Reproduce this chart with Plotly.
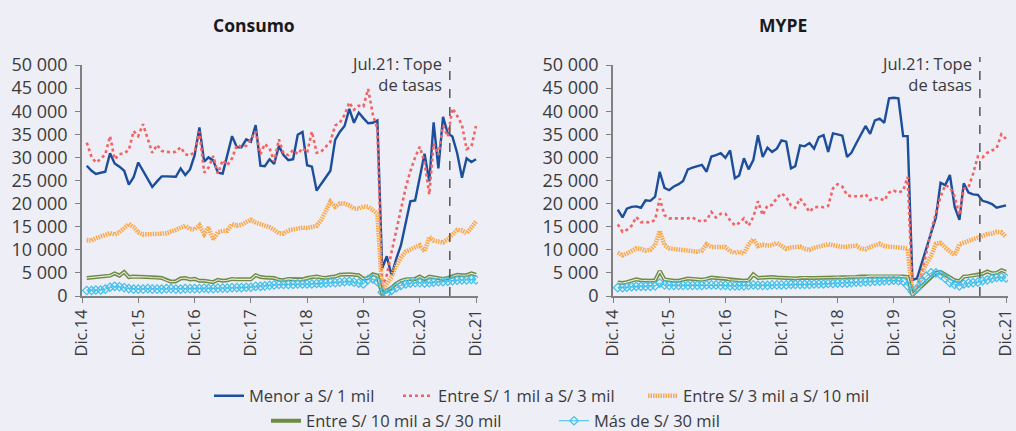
import pandas as pd
import plotly.graph_objects as go

# ---------------- data (values in thousands of soles) ----------------
MONTHS = pd.date_range("2015-01-01", "2021-12-01", freq="MS")
X_TICK_VALS = pd.date_range("2014-12-01", "2021-12-01", freq="12MS")
X_TICK_LABELS = ["Dic.14", "Dic.15", "Dic.16", "Dic.17", "Dic.18", "Dic.19", "Dic.20", "Dic.21"]
Y_TICK_VALS = [0, 5, 10, 15, 20, 25, 30, 35, 40, 45, 50]
Y_TICK_LABELS = ["0", "5 000", "10 000", "15 000", "20 000", "25 000",
                 "30 000", "35 000", "40 000", "45 000", "50 000"]
RATE_CAP_DATE = "2021-06-14"
RATE_CAP_TEXT = "Jul.21: Tope<br>de tasas"
PANEL_TITLES = ["Consumo", "MYPE"]
SERIES_NAMES = ["Menor a S/ 1 mil", "Entre S/ 1 mil a S/ 3 mil", "Entre S/ 3 mil a S/ 10 mil",
                "Entre S/ 10 mil a S/ 30 mil", "Más de S/ 30 mil"]

consumo_menor_1 = [
    28.2, 27.1, 26.4, 26.6, 26.9, 30.9, 28.7, 28.0, 27.1, 24.1,
    25.7, 28.9, 27.2, 25.4, 23.6, 24.8, 25.9, 25.9, 25.8, 25.8,
    27.6, 26.2, 27.4, 30.5, 36.5, 29.1, 30.0, 29.3, 26.7, 26.5,
    30.5, 34.6, 32.2, 32.2, 33.9, 33.4, 37.0, 28.2, 28.1, 29.6,
    28.6, 32.5, 30.5, 29.4, 29.6, 34.9, 35.5, 28.3, 28.0, 22.8,
    24.2, 25.6, 27.1, 33.8, 35.5, 36.8, 40.5, 37.5, 39.7, 38.5,
    37.4, 37.5, 38.0,
    6.0, 8.6, 4.5, 8.0, 11.0, 15.5, 20.5, 20.7, 25.8, 30.8,
    24.8, 37.6, 27.6, 38.8, 35.2, 34.5, 30.9, 25.6, 29.8, 29.0, 29.6]
consumo_1_3 = [
    33.2, 30.1, 28.9, 29.6, 30.7, 34.6, 29.6, 30.7, 30.9, 31.6,
    35.7, 34.6, 37.2, 33.8, 31.0, 32.7, 31.4, 31.2, 31.1, 31.2,
    32.2, 30.7, 30.4, 31.2, 35.6, 26.7, 27.8, 30.3, 26.5, 29.4,
    28.3, 29.8, 32.7, 32.3, 32.5, 33.9, 35.6, 30.7, 32.9, 32.0,
    29.1, 33.9, 30.9, 30.5, 31.6, 30.7, 32.0, 31.0, 35.6, 31.0,
    31.2, 32.3, 33.4, 36.9, 37.5, 39.2, 41.9, 40.3, 41.2, 41.0,
    44.8, 39.2, 36.3,
    2.0, 4.5, 9.5, 14.0, 19.0, 23.5, 27.0, 30.0, 32.3, 29.0,
    22.0, 33.0, 30.5, 36.8, 34.5, 40.6, 39.0, 37.0, 31.8, 32.3, 36.8]
consumo_3_10 = [
    12.1, 12.0, 12.5, 12.9, 13.1, 13.6, 13.3, 13.8, 14.7, 15.6,
    14.9, 13.8, 13.3, 13.3, 13.3, 13.4, 13.5, 13.6, 13.9, 14.3,
    14.8, 15.2, 14.5, 14.4, 15.3, 13.4, 14.8, 12.3, 13.8, 14.1,
    14.1, 15.6, 15.2, 15.4, 16.0, 16.5, 15.9, 15.6, 15.2, 14.9,
    14.3, 13.6, 13.5, 14.2, 14.4, 14.6, 14.8, 14.7, 15.0, 15.2,
    16.4, 18.6, 20.4, 19.3, 20.0, 20.0, 19.6, 18.9, 18.9, 19.4,
    19.3, 18.6, 17.8,
    1.2, 2.5, 4.2, 6.5, 8.3, 9.6, 10.1, 10.5, 11.0, 9.6,
    12.8, 12.0, 11.7, 11.6, 12.3, 13.3, 14.3, 14.2, 13.6, 14.8, 16.1]
consumo_10_30 = [
    3.9, 4.0, 4.1, 4.2, 4.3, 4.4, 4.9, 4.4, 5.2, 4.1,
    4.2, 4.2, 4.1, 4.1, 4.0, 4.0, 3.9, 3.4, 3.1, 3.2,
    3.8, 3.9, 3.6, 3.7, 3.3, 3.3, 3.2, 3.0, 3.5, 3.3,
    3.4, 3.7, 3.6, 3.6, 3.5, 3.6, 4.5, 4.1, 4.0, 3.9,
    3.9, 3.5, 3.4, 3.7, 3.6, 3.5, 3.6, 3.9, 4.1, 4.2,
    4.0, 3.9, 4.1, 4.2, 4.6, 4.7, 4.7, 4.6, 4.5, 3.7,
    3.9, 4.7, 4.4,
    0.5, 1.1, 1.8, 2.7, 3.3, 3.6, 3.7, 3.7, 4.2, 3.6,
    4.2, 4.0, 3.9, 3.7, 3.9, 4.2, 4.6, 4.5, 4.5, 4.9, 4.6]
consumo_mas_30 = [
    1.2, 1.2, 1.3, 1.3, 1.5, 1.9, 2.1, 2.0, 1.8, 1.6,
    1.5, 1.5, 1.5, 1.6, 1.5, 1.5, 1.5, 1.6, 1.6, 1.5,
    1.5, 1.6, 1.6, 1.6, 1.6, 1.7, 1.6, 1.6, 1.7, 1.7,
    1.7, 1.8, 1.8, 1.8, 1.9, 1.9, 2.1, 2.1, 2.2, 2.3,
    2.4, 2.5, 2.5, 2.5, 2.5, 2.6, 2.6, 2.6, 2.6, 2.7,
    2.7, 2.8, 2.9, 2.9, 3.0, 3.1, 3.2, 3.0, 2.8, 2.6,
    3.6, 3.7, 3.1,
    0.8, 0.6, 1.2, 1.8, 2.3, 2.6, 2.8, 2.9, 2.9, 2.8,
    2.9, 3.0, 3.1, 3.1, 3.2, 3.3, 3.4, 3.5, 3.5, 3.6, 3.5]

mype_menor_1 = [
    18.7, 17.0, 18.9, 19.3, 19.4, 19.1, 20.7, 20.6, 21.5, 26.9,
    23.4, 22.9, 23.7, 24.2, 24.9, 27.4, 27.8, 28.1, 28.4, 26.9,
    30.2, 30.5, 30.9, 29.9, 31.5, 25.5, 26.1, 29.8, 27.4, 29.4,
    34.8, 30.1, 32.1, 31.2, 31.9, 33.7, 33.4, 27.6, 28.1, 32.6,
    32.4, 33.1, 31.9, 34.4, 34.8, 31.2, 35.2, 35.0, 34.7, 30.1,
    31.0, 33.0, 34.8, 36.8, 35.1, 38.0, 38.4, 37.5, 42.8, 42.9,
    42.8, 34.6, 34.6,
    3.5, 3.8, 7.0, 10.5, 13.5, 17.0, 24.5, 24.0, 26.2, 19.3,
    16.5, 24.4, 22.4, 22.0, 21.9, 20.6, 20.3, 19.9, 19.1, 19.4, 19.6]
mype_1_3 = [
    15.5, 13.9, 14.3, 15.2, 17.1, 16.0, 16.0, 15.9, 16.5, 21.1,
    17.5, 16.8, 16.8, 16.8, 16.8, 16.8, 17.0, 16.4, 16.1, 16.4,
    18.2, 17.0, 17.8, 17.8, 16.4, 15.3, 15.8, 16.8, 15.2, 17.1,
    20.5, 17.5, 19.6, 19.7, 21.2, 22.2, 21.4, 19.6, 19.1, 21.1,
    19.8, 18.2, 19.2, 19.3, 19.2, 19.5, 23.3, 24.2, 23.7, 21.8,
    21.6, 21.6, 21.6, 22.0, 20.8, 21.2, 21.1, 20.7, 22.4, 22.8,
    22.4, 22.8, 25.8,
    1.2, 1.5, 5.0, 9.5, 14.0, 18.0, 21.5, 24.0, 23.5, 21.5,
    17.5, 23.2, 23.5, 26.5, 30.2, 30.0, 31.0, 31.5, 32.0, 35.0, 34.0]
mype_3_10 = [
    9.4, 8.8, 9.2, 9.7, 10.3, 10.2, 9.8, 10.0, 11.0, 14.1,
    11.0, 10.3, 10.2, 10.1, 9.8, 9.7, 9.6, 9.6, 9.8, 11.2,
    10.6, 10.6, 10.7, 10.6, 9.7, 9.3, 9.6, 9.2, 11.2, 12.3,
    10.8, 11.1, 10.9, 11.0, 11.5, 10.9, 10.2, 10.5, 10.7, 10.7,
    10.2, 10.0, 10.4, 10.6, 10.8, 11.2, 11.0, 10.8, 10.6, 10.7,
    10.8, 10.9, 10.3, 10.1, 10.6, 10.9, 11.3, 10.8, 10.7, 10.8,
    10.6, 10.4, 10.2,
    0.4, 1.5, 4.8, 7.0, 8.7, 11.3, 11.5, 10.5, 9.5, 8.8,
    11.2, 11.5, 11.8, 12.2, 12.7, 13.0, 13.4, 13.5, 13.9, 13.8, 12.8]
mype_10_30 = [
    2.9, 2.8, 3.0, 3.3, 3.6, 3.4, 3.3, 3.3, 3.4, 5.4,
    3.6, 3.4, 3.3, 3.3, 3.6, 3.8, 3.7, 3.6, 3.5, 3.7,
    4.0, 3.9, 3.8, 3.8, 3.5, 3.4, 3.4, 3.3, 3.4, 4.7,
    3.9, 4.0, 4.0, 4.1, 4.0, 3.9, 3.9, 3.9, 3.8, 3.9,
    4.0, 3.9, 3.9, 3.9, 4.0, 4.0, 4.0, 4.1, 4.0, 4.1,
    4.1, 4.1, 4.2, 4.2, 4.3, 4.3, 4.3, 4.4, 4.4, 4.3,
    4.3, 4.2, 4.1,
    0.2, 1.2, 2.2, 3.2, 4.2, 5.0, 5.2, 4.6, 4.0, 3.4,
    3.2, 4.2, 4.3, 4.4, 4.6, 4.8, 5.3, 4.9, 5.0, 5.6, 5.2]
mype_mas_30 = [
    1.8, 1.8, 1.9, 2.0, 2.1, 2.1, 2.1, 2.1, 2.2, 2.8,
    2.4, 2.3, 2.3, 2.3, 2.3, 2.3, 2.3, 2.3, 2.3, 2.4,
    2.4, 2.4, 2.3, 2.3, 2.2, 2.2, 2.2, 2.2, 2.3, 2.4,
    2.3, 2.3, 2.3, 2.4, 2.4, 2.4, 2.4, 2.5, 2.5, 2.5,
    2.5, 2.5, 2.6, 2.6, 2.6, 2.7, 2.7, 2.8, 2.8, 2.8,
    2.9, 3.0, 3.0, 3.1, 3.1, 3.2, 3.2, 3.3, 3.3, 3.4,
    3.3, 3.2, 2.2,
    0.9, 1.6, 3.2, 4.3, 5.0, 5.0, 4.6, 3.8, 2.9, 2.5,
    2.2, 2.6, 2.8, 2.9, 3.0, 3.3, 3.5, 3.8, 4.0, 4.1, 3.9]

PANELS = [
    [consumo_menor_1, consumo_1_3, consumo_3_10, consumo_10_30, consumo_mas_30],
    [mype_menor_1, mype_1_3, mype_3_10, mype_10_30, mype_mas_30],
]

# ---------------- styling ----------------
BG = "#EEEEF6"
FONT = "Open Sans"
TXT = "#3A3A3A"
AXIS_COLOR = "#808080"

STYLES = [
    dict(mode="lines", line=dict(color="#1D4E9B", width=2.4)),
    dict(mode="lines", line=dict(color="#F26363", width=2.6, dash="dot")),
    dict(mode="lines", line=dict(color="#FBA84A", width=4.5, dash="1.5px,1px")),
    dict(mode="lines", line=dict(color="#6F8A45", width=4)),
    dict(mode="lines+markers", line=dict(color="#3FC0EC", width=1),
         marker=dict(symbol="diamond-open", size=6.5, color="#3FC0EC", line=dict(width=1.2))),
]
LEGEND_OF = ["legend", "legend", "legend", "legend2", "legend2"]
LEGEND_ENTRY_WIDTH = [144, 200, None, 243, None]

fig = go.Figure()
for p, series in enumerate(PANELS):
    xa = "x" if p == 0 else "x2"
    ya = "y" if p == 0 else "y2"
    for s, values in enumerate(series):
        extra = {}
        if p == 0 and LEGEND_ENTRY_WIDTH[s]:
            extra["legendwidth"] = LEGEND_ENTRY_WIDTH[s]
        fig.add_trace(go.Scatter(
            x=MONTHS, y=values, name=SERIES_NAMES[s], xaxis=xa, yaxis=ya,
            showlegend=(p == 0), legend=LEGEND_OF[s], **STYLES[s], **extra))
        if s == 3:  # inner light stroke for the double line
            fig.add_trace(go.Scatter(
                x=MONTHS, y=values, xaxis=xa, yaxis=ya, mode="lines",
                line=dict(color="#E6EBD8", width=1.1), showlegend=False,
                hoverinfo="skip"))

xdom = [[82 / 1016, 478 / 1016], [613 / 1016, 1008 / 1016]]
ydom = [(431 - 296) / 431, (431 - 65) / 431]

common_x = dict(
    range=["2014-12-01", "2021-12-14"], tickvals=X_TICK_VALS, ticktext=X_TICK_LABELS,
    tickangle=-90, showgrid=False, zeroline=False, showline=True, linecolor=AXIS_COLOR,
    linewidth=1.5, ticks="outside", ticklen=5, tickcolor=AXIS_COLOR, automargin=False,
    ticklabeloverflow="allow", tickfont=dict(family=FONT, size=16.5, color=TXT))
common_y = dict(
    range=[0, 50], tickvals=Y_TICK_VALS, ticktext=Y_TICK_LABELS, showgrid=False,
    zeroline=False, showline=True, linecolor=AXIS_COLOR, linewidth=1.5, ticks="outside",
    ticklen=5, tickcolor=AXIS_COLOR, ticklabelstandoff=4, automargin=False,
    ticklabeloverflow="allow", tickfont=dict(family=FONT, size=18, color=TXT))

LEG_FONT = dict(family=FONT, size=16.5, color=TXT)
fig.update_layout(
    width=1016, height=431, paper_bgcolor=BG, plot_bgcolor=BG,
    margin=dict(l=0, r=0, t=0, b=0, autoexpand=False),
    xaxis=dict(domain=xdom[0], anchor="y", **common_x),
    yaxis=dict(domain=ydom, anchor="x", **common_y),
    xaxis2=dict(domain=xdom[1], anchor="y2", **common_x),
    yaxis2=dict(domain=ydom, anchor="x2", **common_y),
    legend=dict(orientation="h", x=209 / 1016, xanchor="left", y=1 - 396 / 431,
                yanchor="middle", bgcolor="rgba(0,0,0,0)", font=LEG_FONT, itemwidth=30),
    legend2=dict(orientation="h", x=266 / 1016, xanchor="left", y=1 - 421 / 431,
                 yanchor="middle", bgcolor="rgba(0,0,0,0)", font=LEG_FONT, itemwidth=30),
    showlegend=True,
)

titles_x = [254 / 1016, 783 / 1016]
for p in range(2):
    xa = "x" if p == 0 else "x2"
    ya = "y" if p == 0 else "y2"
    fig.add_annotation(text="<b>" + PANEL_TITLES[p] + "</b>", xref="paper", yref="paper",
                       x=titles_x[p], y=1 - 25 / 431, xanchor="center", yanchor="middle",
                       showarrow=False, font=dict(family=FONT, size=17.5, color="#1A1A1A"))
    fig.add_shape(type="line", xref=xa, yref=ya + " domain", x0=RATE_CAP_DATE,
                  x1=RATE_CAP_DATE, y0=0, y1=1.035,
                  line=dict(color="#555555", width=1.5, dash="dash"))
    fig.add_annotation(text=RATE_CAP_TEXT, xref=xa, yref=ya + " domain", x=RATE_CAP_DATE,
                       y=1.065, xanchor="right", yanchor="top", xshift=-6, align="right",
                       showarrow=False, font=dict(family=FONT, size=16.5, color=TXT))

PAGE_CSS_JS = ("document.documentElement.style.margin='0';"
               "document.body.style.margin='0';"
               "document.body.style.background='" + BG + "';"
               "document.documentElement.style.overflow='hidden';")
fig.write_html("out.html", post_script=PAGE_CSS_JS, config={"displayModeBar": False})
